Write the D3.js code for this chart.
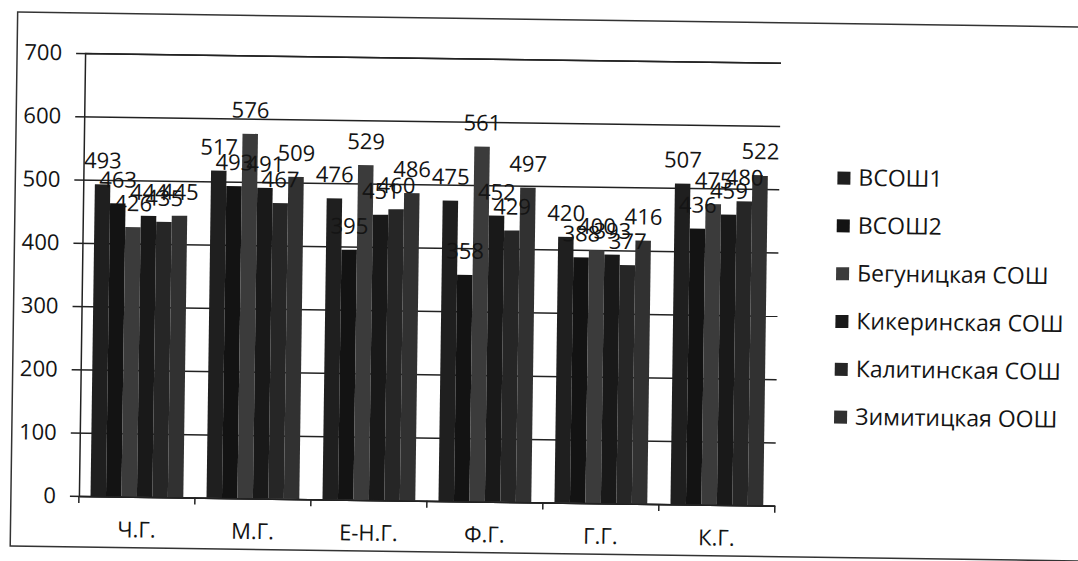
<!DOCTYPE html>
<html>
<head>
<meta charset="utf-8">
<script src="https://cdn.jsdelivr.net/npm/d3@7"></script>
<style>
  body { margin: 0; background: #fff; }
  text { font-family: 'Open Sans', sans-serif; fill: #141414; }
</style>
</head>
<body>
<svg id="chart" width="1078" height="561"></svg>
<script>
// categories (subjects) and schools
const categories = ['Ч.Г.', 'М.Г.', 'Е-Н.Г.', 'Ф.Г.', 'Г.Г.', 'К.Г.'];
const schools = ['ВСОШ1', 'ВСОШ2', 'Бегуницкая СОШ', 'Кикеринская СОШ', 'Калитинская СОШ', 'Зимитицкая ООШ'];

// one array per school, in category order
const vsosh1 = [493, 517, 476, 475, 420, 507];
const vsosh2 = [463, 493, 395, 358, 388, 436];
const begunitskaya = [426, 576, 529, 561, 400, 475];
const kikerinskaya = [444, 491, 451, 452, 393, 459];
const kalitinskaya = [435, 467, 460, 429, 377, 480];
const zimititskaya = [445, 509, 486, 497, 416, 522];

const yTicks = [0, 100, 200, 300, 400, 500, 600, 700];

const seriesValues = [vsosh1, vsosh2, begunitskaya, kikerinskaya, kalitinskaya, zimititskaya];
// grey tones of the scanned print
const colors = ['#1f1f1f', '#131313', '#3b3b3b', '#191919', '#262626', '#313131'];

// plot area
const plotLeft = 82;
const plotRight = 778;
const plotTop = 53;
const plotBottom = 496;

const svg = d3.select('#chart');

// the scan is slightly rotated
const g = svg.append('g')
  .attr('transform', 'rotate(0.8,' + plotLeft + ',275)');

// outer frame
g.append('rect')
  .attr('x', 14)
  .attr('y', 13)
  .attr('width', 1090)
  .attr('height', 534)
  .attr('fill', 'none')
  .attr('stroke', '#333')
  .attr('stroke-width', 1.5);

const x0 = d3.scaleBand()
  .domain(categories)
  .range([plotLeft, plotRight])
  .paddingInner(0.2)
  .paddingOuter(0.1);

const x1 = d3.scaleBand()
  .domain(d3.range(schools.length))
  .range([0, x0.bandwidth()]);

const y = d3.scaleLinear()
  .domain([0, 700])
  .range([plotBottom, plotTop]);

// y axis with gridlines
const yAxis = d3.axisLeft(y)
  .tickValues(yTicks)
  .tickSize(-(plotRight - plotLeft))
  .tickPadding(23);

const yG = g.append('g')
  .attr('transform', 'translate(' + plotLeft + ',0)')
  .call(yAxis);
yG.select('.domain').attr('stroke', '#222').attr('stroke-width', 1.5);
yG.selectAll('.tick line')
  .attr('x1', -9)
  .attr('stroke', '#222')
  .attr('stroke-width', 1.5);
yG.selectAll('.tick text')
  .attr('font-size', 22)
  .attr('fill', '#141414')
  .attr('font-family', "'Open Sans', sans-serif");

// bars
const groups = g.selectAll('.group')
  .data(categories)
  .enter()
  .append('g')
  .attr('class', 'group')
  .attr('transform', function(d) { return 'translate(' + x0(d) + ',0)'; });

groups.selectAll('rect')
  .data(function(d, ci) {
    return seriesValues.map(function(vals, si) { return { si: si, v: vals[ci] }; });
  })
  .enter()
  .append('rect')
  .attr('x', function(d) { return x1(d.si); })
  .attr('y', function(d) { return y(d.v); })
  .attr('width', x1.bandwidth())
  .attr('height', function(d) { return plotBottom - y(d.v); })
  .attr('fill', function(d) { return colors[d.si]; });

// x axis
const xAxis = d3.axisBottom(x0)
  .tickSize(0)
  .tickPadding(25);
const xG = g.append('g')
  .attr('transform', 'translate(0,' + plotBottom + ')')
  .call(xAxis);
xG.select('.domain').attr('stroke', '#222').attr('stroke-width', 1.5);
xG.selectAll('.tick text')
  .attr('font-size', 22)
  .attr('fill', '#141414')
  .attr('font-family', "'Open Sans', sans-serif");

// small ticks between categories
g.selectAll('.cat-tick')
  .data(d3.range(categories.length + 1))
  .enter()
  .append('line')
  .attr('x1', function(i) { return plotLeft + i * x0.step(); })
  .attr('x2', function(i) { return plotLeft + i * x0.step(); })
  .attr('y1', plotBottom)
  .attr('y2', plotBottom + 7)
  .attr('stroke', '#222')
  .attr('stroke-width', 1.5);

// data labels (drawn after bars so they overlap like the original)
groups.selectAll('.lbl')
  .data(function(d, ci) {
    return seriesValues.map(function(vals, si) { return { si: si, v: vals[ci] }; });
  })
  .enter()
  .append('text')
  .attr('class', 'lbl')
  .attr('x', function(d) { return x1(d.si) + x1.bandwidth() / 2; })
  .attr('y', function(d) { return y(d.v) - 16; })
  .attr('text-anchor', 'middle')
  .attr('font-size', 22)
  .text(function(d) { return d.v; });

// legend
const legend = g.append('g')
  .attr('transform', 'translate(836,167)');
const items = legend.selectAll('.item')
  .data(schools)
  .enter()
  .append('g')
  .attr('transform', function(d, i) { return 'translate(0,' + i * 47.8 + ')'; });
items.append('rect')
  .attr('x', 0)
  .attr('y', -6)
  .attr('width', 13)
  .attr('height', 13)
  .attr('fill', function(d, i) { return colors[i]; });
items.append('text')
  .attr('x', 21)
  .attr('y', 8)
  .attr('font-size', 23)
  .text(function(d) { return d; });
</script>
</body>
</html>
